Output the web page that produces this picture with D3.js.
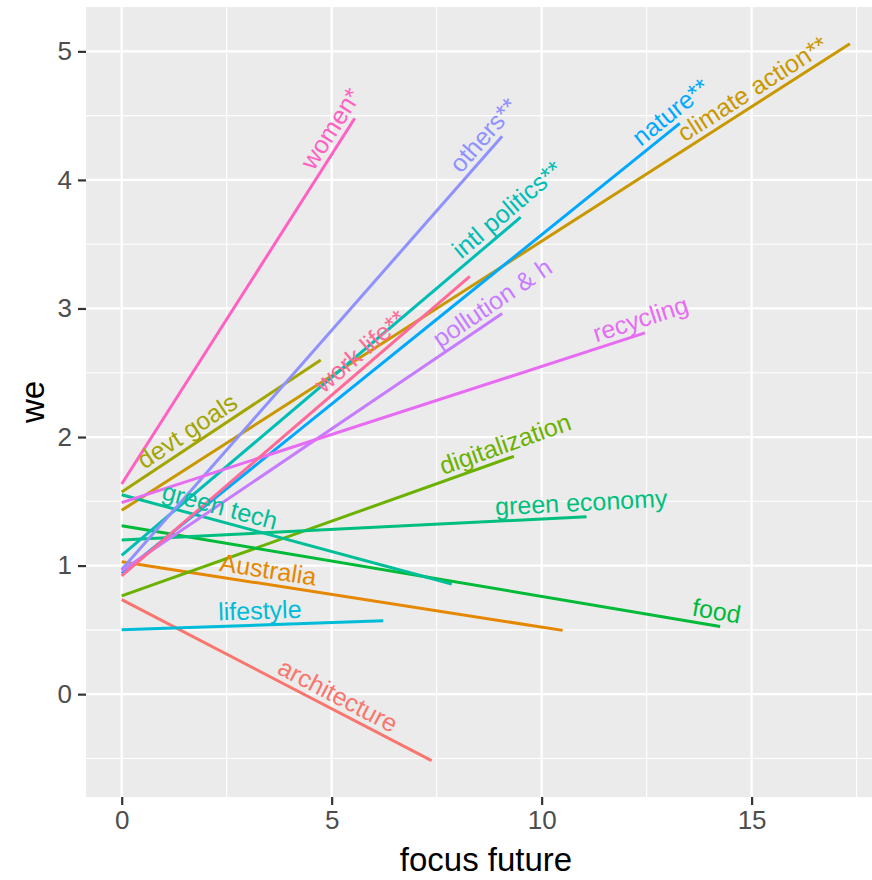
<!DOCTYPE html>
<html>
<head>
<meta charset="utf-8">
<script src="https://cdn.jsdelivr.net/npm/d3@7"></script>
<style>
  html, body { margin: 0; padding: 0; background: #ffffff; }
  svg { display: block; }
</style>
</head>
<body>
<svg id="chart" width="872" height="880"></svg>
<script>
// ---- data ----
const groups = ["architecture", "Australia", "climate action**", "devt goals", "digitalization",
  "food", "green economy", "green tech", "intl politics**", "lifestyle", "nature**", "others**",
  "pollution & h", "recycling", "women*", "work life**"];
const xStart = [0, 0, 0, 0, 0, 0, 0, 0, 0, 0, 0, 0, 0, 0, 0, 0];
const yStart = [0.735, 1.03, 1.43, 1.572, 0.765, 1.31, 1.20, 1.551, 1.08, 0.50, 0.94, 0.97, 0.96, 1.49, 1.635, 0.92];
const xEnd   = [7.38, 10.5, 17.34, 4.74, 9.34, 14.25, 11.07, 7.86, 9.5, 6.23, 13.29, 9.06, 9.06, 12.46, 5.55, 8.29];
const yEnd   = [-0.517, 0.496, 5.06, 2.60, 1.85, 0.527, 1.38, 0.857, 3.71, 0.57, 4.44, 4.34, 2.96, 2.81, 4.48, 3.25];
const labelHjust = [0.676, 0.327, 0.877, 0.37, 0.99, 0.99, 0.99, 0.286, 0.99, 0.53, 1.0, 0.98, 0.995, 1.0, 0.95, 0.713];
const groupColors = ["#F8766D", "#E58700", "#C99800", "#A3A500", "#6BB100", "#00BA38", "#00BF7D", "#00BE98",
  "#00BDB5", "#00BCD8", "#00A9FF", "#8F91FF", "#C77CFF", "#E76BF3", "#FF61C3", "#FF6A98"];
const xTicks = [0, 5, 10, 15];
const xMinor = [2.5, 7.5, 12.5, 17.5];
const yTicks = [0, 1, 2, 3, 4, 5];
const yMinor = [-0.5, 0.5, 1.5, 2.5, 3.5, 4.5];
const xTitle = "focus future";
const yTitle = "we";

// ---- layout ----
const panel = { left: 86, right: 886, top: 7, bottom: 797 };
const FONT = "'Liberation Sans', Arial, Helvetica, sans-serif";

const x = d3.scaleLinear().domain([-0.85, 18.2]).range([panel.left, panel.right]);
const y = d3.scaleLinear().domain([-0.8, 5.345]).range([panel.bottom, panel.top]);
const color = d3.scaleOrdinal().domain(groups).range(groupColors);

const svg = d3.select("#chart");

// panel background
svg.append("rect")
  .attr("x", panel.left).attr("y", panel.top)
  .attr("width", panel.right - panel.left).attr("height", panel.bottom - panel.top)
  .attr("fill", "#EBEBEB");

const grid = svg.append("g");
// minor grid
grid.selectAll("line.xminor").data(xMinor).join("line")
  .attr("x1", d => x(d)).attr("x2", d => x(d))
  .attr("y1", panel.top).attr("y2", panel.bottom)
  .attr("stroke", "#ffffff").attr("stroke-width", 1.1);
grid.selectAll("line.yminor").data(yMinor).join("line")
  .attr("y1", d => y(d)).attr("y2", d => y(d))
  .attr("x1", panel.left).attr("x2", panel.right)
  .attr("stroke", "#ffffff").attr("stroke-width", 1.1);
// major grid
grid.selectAll("line.xmajor").data(xTicks).join("line")
  .attr("x1", d => x(d)).attr("x2", d => x(d))
  .attr("y1", panel.top).attr("y2", panel.bottom)
  .attr("stroke", "#ffffff").attr("stroke-width", 2.3);
grid.selectAll("line.ymajor").data(yTicks).join("line")
  .attr("y1", d => y(d)).attr("y2", d => y(d))
  .attr("x1", panel.left).attr("x2", panel.right)
  .attr("stroke", "#ffffff").attr("stroke-width", 2.3);

// axes
const xAxis = d3.axisBottom(x).tickValues(xTicks).tickSize(8).tickPadding(6).tickFormat(d3.format("d"));
const gx = svg.append("g").attr("transform", `translate(0,${panel.bottom})`).call(xAxis);
gx.select(".domain").remove();
gx.selectAll(".tick line").attr("stroke", "#333333").attr("stroke-width", 2.2);
gx.selectAll(".tick text").attr("fill", "#4D4D4D").attr("font-size", 26).attr("font-family", FONT);

const yAxis = d3.axisLeft(y).tickValues(yTicks).tickSize(8).tickPadding(6).tickFormat(d3.format("d"));
const gy = svg.append("g").attr("transform", `translate(${panel.left},0)`).call(yAxis);
gy.select(".domain").remove();
gy.selectAll(".tick line").attr("stroke", "#333333").attr("stroke-width", 2.2);
gy.selectAll(".tick text").attr("fill", "#4D4D4D").attr("font-size", 26).attr("font-family", FONT);

// axis titles
svg.append("text")
  .attr("x", (panel.left + panel.right) / 2).attr("y", 871)
  .attr("text-anchor", "middle")
  .attr("font-family", FONT).attr("font-size", 33).attr("fill", "#000000")
  .text(xTitle);
svg.append("text")
  .attr("transform", `translate(44,${(panel.top + panel.bottom) / 2}) rotate(-90)`)
  .attr("text-anchor", "middle")
  .attr("font-family", FONT).attr("font-size", 33).attr("fill", "#000000")
  .text(yTitle);

// lines + labels
const rows = groups.map((g, i) => ({
  g, x0: xStart[i], y0: yStart[i], x1: xEnd[i], y1: yEnd[i], t: labelHjust[i]
}));

const clip = svg.append("defs").append("clipPath").attr("id", "panelclip");
clip.append("rect").attr("x", panel.left).attr("y", panel.top)
  .attr("width", panel.right - panel.left).attr("height", panel.bottom - panel.top);

const layer = svg.append("g").attr("clip-path", "url(#panelclip)");
const line = d3.line().x(d => x(d[0])).y(d => y(d[1]));

rows.forEach(r => {
  layer.append("path")
    .attr("d", line([[r.x0, r.y0], [r.x1, r.y1]]))
    .attr("fill", "none")
    .attr("stroke", color(r.g))
    .attr("stroke-width", 3)
    .attr("stroke-linecap", "butt");
});

rows.forEach(r => {
  const px0 = x(r.x0), py0 = y(r.y0), px1 = x(r.x1), py1 = y(r.y1);
  const ang = Math.atan2(py1 - py0, px1 - px0) * 180 / Math.PI;
  const cx = px0 + r.t * (px1 - px0), cy = py0 + r.t * (py1 - py0);
  layer.append("text")
    .attr("transform", `translate(${cx},${cy}) rotate(${ang})`)
    .attr("x", 0).attr("y", -6)
    .attr("text-anchor", "middle")
    .attr("font-family", FONT).attr("font-size", 25)
    .attr("fill", color(r.g))
    .text(r.g);
});
</script>
</body>
</html>
